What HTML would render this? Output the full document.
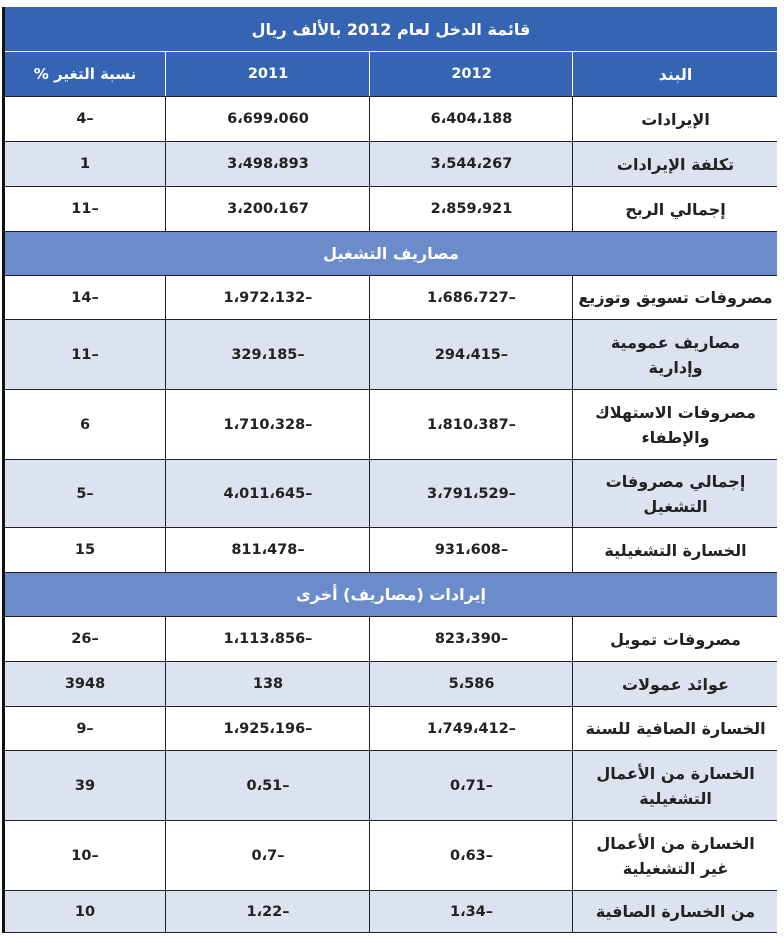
<!DOCTYPE html>
<html><head><meta charset="utf-8"><style>
body{margin:0;width:784px;height:943px;background:#fff;position:relative;overflow:hidden;font-family:"DejaVu Sans","Liberation Sans",sans-serif;font-weight:bold;}
.r{position:absolute;left:5px;width:772px;border-bottom:1.5px solid #222;box-sizing:border-box;}
.c{position:absolute;top:0;bottom:0;display:flex;align-items:center;justify-content:center;text-align:center;font-size:14.5px;color:#222;}
.c0{left:0;width:160px;}.c1{left:160px;width:204px;border-left:1.5px solid #222;}
.c2{left:364px;width:203px;border-left:1.5px solid #222;}.c3{left:567px;width:205px;border-left:1.5px solid #222;direction:rtl;font-size:16px;line-height:25px;}
.s{background:#dde2f1;}
.sec{background:#6b8bcb;color:#fff;}
.sec .c{color:#fff;font-size:16px;left:0;width:772px;direction:rtl;}
.hd{background:#3565b2;}
.hd .c{color:#fff;border-color:#fff;}
</style></head><body>
<div style="position:absolute;left:2px;top:7px;width:3px;height:926px;background:#111"></div>
<div class="r hd" style="top:7px;height:45px;border-bottom:1.5px solid #fff"><div class="c" style="left:0;width:772px;direction:rtl;font-size:16px;color:#fff">قائمة الدخل لعام 2012 بالألف ريال</div></div>
<div class="r hd" style="top:52px;height:45px"><div class="c c0" style="direction:rtl;font-size:15px">نسبة التغير %</div><div class="c c1">2011</div><div class="c c2">2012</div><div class="c c3" style="font-size:16px">البند</div></div>
<div class="r" style="top:97px;height:45px"><div class="c c0">4–</div><div class="c c1">6،699،060</div><div class="c c2">6،404،188</div><div class="c c3">الإيرادات</div></div>
<div class="r s" style="top:142px;height:45px"><div class="c c0">1</div><div class="c c1">3،498،893</div><div class="c c2">3،544،267</div><div class="c c3">تكلفة الإيرادات</div></div>
<div class="r" style="top:187px;height:45px"><div class="c c0">11–</div><div class="c c1">3،200،167</div><div class="c c2">2،859،921</div><div class="c c3">إجمالي الربح</div></div>
<div class="r sec" style="top:232px;height:44px"><div class="c">مصاريف التشغيل</div></div>
<div class="r" style="top:276px;height:44px"><div class="c c0">14–</div><div class="c c1">1،972،132–</div><div class="c c2">1،686،727–</div><div class="c c3">مصروفات تسويق وتوزيع</div></div>
<div class="r s" style="top:320px;height:70px"><div class="c c0">11–</div><div class="c c1">329،185–</div><div class="c c2">294،415–</div><div class="c c3">مصاريف عمومية<br>وإدارية</div></div>
<div class="r" style="top:390px;height:70px"><div class="c c0">6</div><div class="c c1">1،710،328–</div><div class="c c2">1،810،387–</div><div class="c c3">مصروفات الاستهلاك<br>والإطفاء</div></div>
<div class="r s" style="top:460px;height:68px"><div class="c c0">5–</div><div class="c c1">4،011،645–</div><div class="c c2">3،791،529–</div><div class="c c3">إجمالي مصروفات<br>التشغيل</div></div>
<div class="r" style="top:528px;height:45px"><div class="c c0">15</div><div class="c c1">811،478–</div><div class="c c2">931،608–</div><div class="c c3">الخسارة التشغيلية</div></div>
<div class="r sec" style="top:573px;height:44px"><div class="c">إيرادات (مصاريف) أخرى</div></div>
<div class="r" style="top:617px;height:45px"><div class="c c0">26–</div><div class="c c1">1،113،856–</div><div class="c c2">823،390–</div><div class="c c3">مصروفات تمويل</div></div>
<div class="r s" style="top:662px;height:45px"><div class="c c0">3948</div><div class="c c1">138</div><div class="c c2">5،586</div><div class="c c3">عوائد عمولات</div></div>
<div class="r" style="top:707px;height:44px"><div class="c c0">9–</div><div class="c c1">1،925،196–</div><div class="c c2">1،749،412–</div><div class="c c3">الخسارة الصافية للسنة</div></div>
<div class="r s" style="top:751px;height:70px"><div class="c c0">39</div><div class="c c1">0،51–</div><div class="c c2">0،71–</div><div class="c c3">الخسارة من الأعمال<br>التشغيلية</div></div>
<div class="r" style="top:821px;height:70px"><div class="c c0">10–</div><div class="c c1">0،7–</div><div class="c c2">0،63–</div><div class="c c3">الخسارة من الأعمال<br>غير التشغيلية</div></div>
<div class="r s" style="top:891px;height:42px"><div class="c c0">10</div><div class="c c1">1،22–</div><div class="c c2">1،34–</div><div class="c c3">من الخسارة الصافية</div></div>
</body></html>
